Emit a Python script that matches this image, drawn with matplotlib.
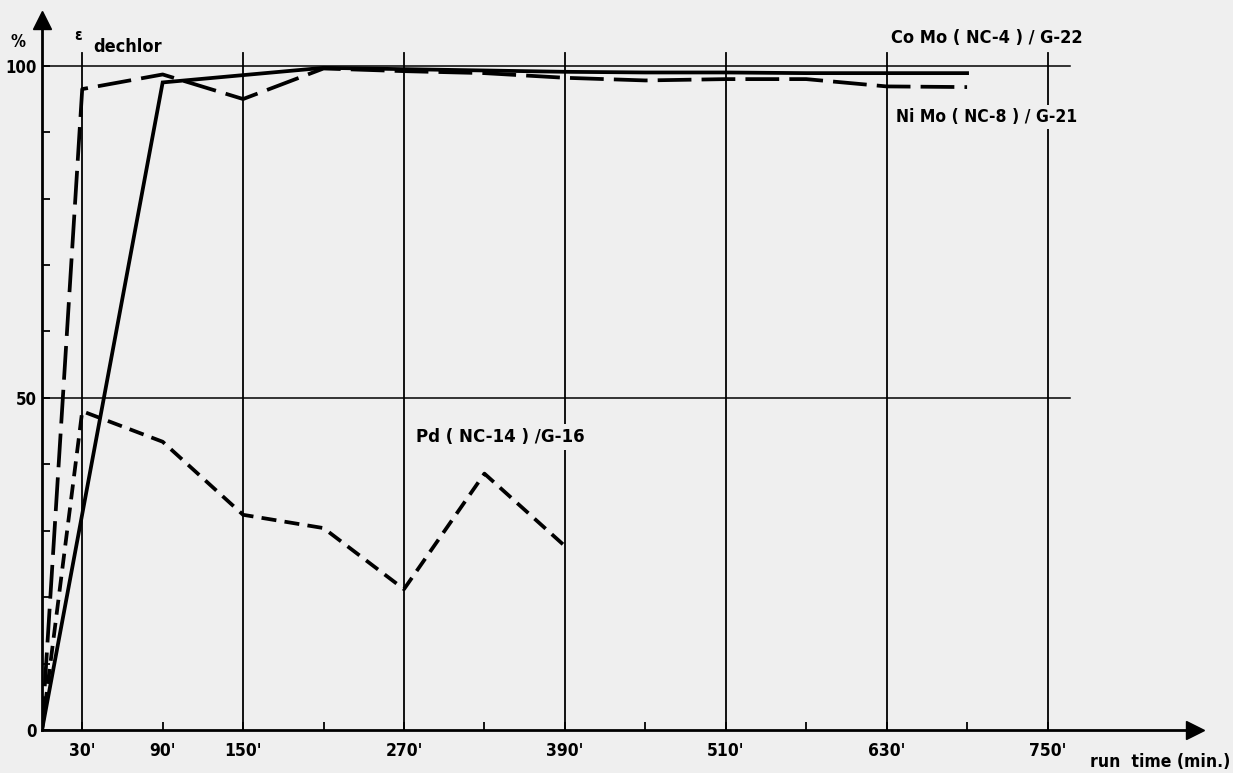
import matplotlib
matplotlib.use("Agg")
import matplotlib.pyplot as plt

# ---- data ----
como_t = [0, 90, 210, 270, 330, 390, 450, 510, 570, 630, 690]
como_v = [0, 97.5, 99.7, 99.5, 99.3, 99.1, 99.0, 99.0, 98.9, 98.9, 98.9]

nimo_t = [0, 30, 90, 150, 210, 270, 330, 390, 450, 510, 570, 630, 690]
nimo_v = [0, 96.5, 98.7, 95.0, 99.6, 99.2, 98.9, 98.2, 97.8, 98.0, 98.0, 96.9, 96.8]

pd_t = [0, 30, 90, 150, 210, 270, 330, 390]
pd_v = [0, 48.0, 43.4, 32.4, 30.4, 21.2, 38.6, 27.7]

xtick_pos = [30, 90, 150, 270, 390, 510, 630, 750]
xtick_labels = ["30'", "90'", "150'", "270'", "390'", "510'", "630'", "750'"]
xminor_pos = [210, 330, 450, 570, 690]
xgrid_pos = [30, 150, 270, 390, 510, 630, 750]
ytick_pos = [0, 50, 100]
ytick_labels = ["0", "50", "100"]
yminor_pos = [10, 20, 30, 40, 60, 70, 80, 90]
ygrid_pos = [50, 100]

label_como = "Co Mo ( NC-4 ) / G-22"
label_nimo = "Ni Mo ( NC-8 ) / G-21"
label_pd = "Pd ( NC-14 ) /G-16"

BG = "#efefef"
FONT = dict(family="DejaVu Sans", fontweight="bold", fontstretch="condensed")

fig = plt.figure(figsize=(12.33, 7.73), dpi=100, facecolor=BG)
W, H = 1233, 773
x0px, y0px = 42, 730
x1px, y1px = 1195, 20
ax = fig.add_axes([x0px / W, (H - y0px) / H, (x1px - x0px) / W, (y0px - y1px) / H])
ax.set_facecolor(BG)
ax.set_xlim(0, 860)
ax.set_ylim(0, 106.9)

for s in ("top", "right"):
    ax.spines[s].set_visible(False)
for s in ("left", "bottom"):
    ax.spines[s].set_linewidth(2.0)
ax.plot(1, 0, marker=">", color="k", markersize=13, transform=ax.get_yaxis_transform(), clip_on=False)
ax.plot(0, 1, marker="^", color="k", markersize=13, transform=ax.get_xaxis_transform(), clip_on=False)

# grid lines
for g in ygrid_pos:
    ax.plot([0, 767], [g, g], color="k", lw=1.1, zorder=1)
for g in xgrid_pos:
    ax.plot([g, g], [0, 102.0], color="k", lw=1.3, zorder=1)

# ticks
ax.set_xticks(xtick_pos)
ax.set_xticklabels(xtick_labels, fontsize=12.5, **FONT)
ax.set_xticks(xminor_pos, minor=True)
ax.set_yticks(ytick_pos)
ax.set_yticklabels(ytick_labels, fontsize=12, **FONT)
ax.set_yticks(yminor_pos, minor=True)
ax.tick_params(axis="x", which="both", direction="in", length=6, width=1.3, pad=9)
ax.tick_params(axis="y", which="both", direction="in", length=6, width=1.3, pad=4)

# data lines
ax.plot(como_t, como_v, color="k", lw=2.7, solid_joinstyle="miter", zorder=3)
ax.plot(nimo_t, nimo_v, color="k", lw=2.7, linestyle=(0, (9.0, 2.7)), zorder=3)
ax.plot(pd_t, pd_v, color="k", lw=2.7, linestyle=(0, (4.0, 2.2)), zorder=3)

# labels
box = dict(facecolor=BG, edgecolor="none", pad=2)
ax.text(633.6, 104.2, label_como, ha="left", va="center", fontsize=13, bbox=box, clip_on=False, **FONT)
ax.text(637, 92.3, label_nimo, ha="left", va="center", fontsize=12.5, bbox=box, **FONT)
ax.text(279, 44.1, label_pd, ha="left", va="center", fontsize=13.3,
        bbox=dict(facecolor=BG, edgecolor="none", pad=3), **FONT)
ax.text(-18, 103.6, "%", ha="center", va="center", fontsize=12, clip_on=False, **FONT)
ax.text(27, 104.6, "ε", ha="center", va="center", fontsize=11, clip_on=False, **FONT)
ax.text(38, 102.9, "dechlor", ha="left", va="center", fontsize=13, clip_on=False, **FONT)
ax.text(782, -4.8, "run  time (min.)", ha="left", va="center", fontsize=12.6, clip_on=False, **FONT)

fig.savefig("out.png", dpi=100, facecolor=BG)
